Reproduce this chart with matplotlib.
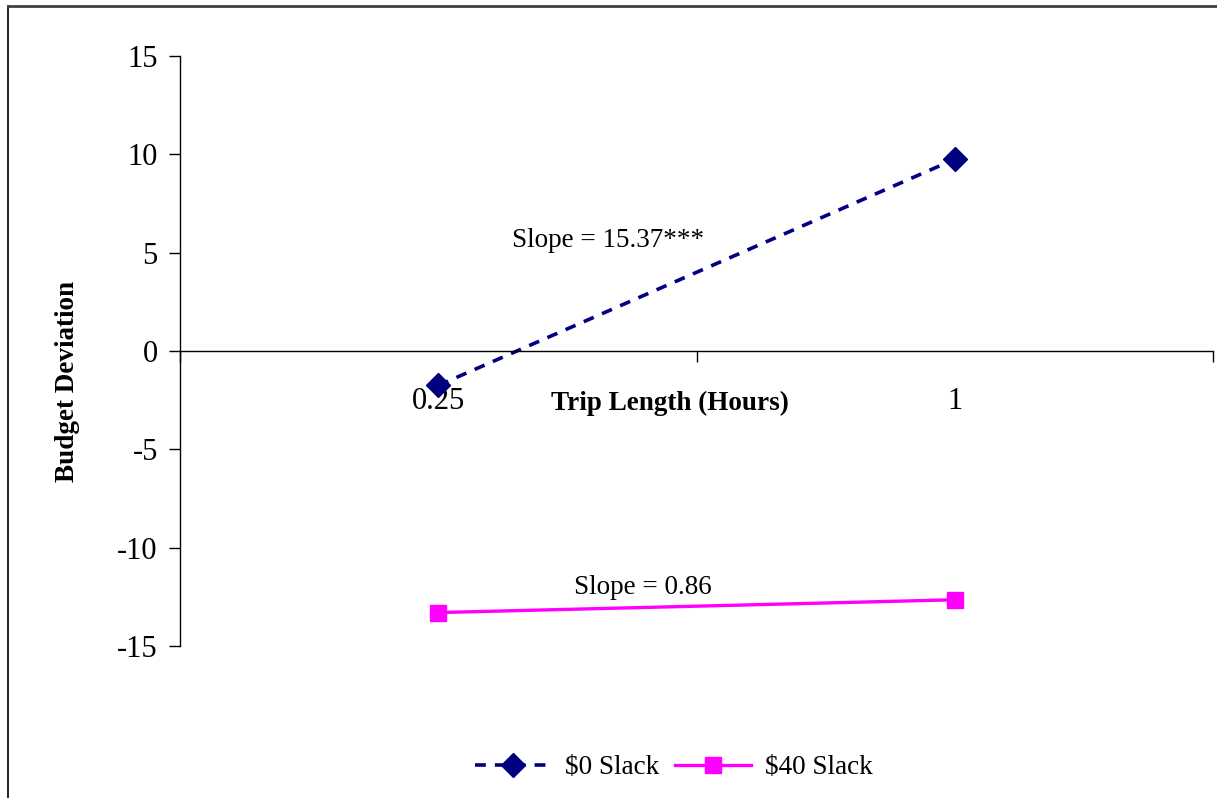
import matplotlib
matplotlib.use("Agg")
import matplotlib.pyplot as plt
from matplotlib.lines import Line2D

categories = ["0.25", "1"]
slack0 = [-1.75, 9.75]
slack40 = [-13.3, -12.65]
series_names = ["$0 Slack", "$40 Slack"]
slope_texts = ["Slope = 15.37***", "Slope = 0.86"]
y_ticks = [-15, -10, -5, 0, 5, 10, 15]

plt.rcParams['font.family'] = ['Liberation Serif', 'DejaVu Serif']

W, H = 1217, 798
fig = plt.figure(figsize=(W / 100, H / 100), dpi=100)
ax = fig.add_axes([180 / W, 1 - 646 / H, (1213 - 180) / W, (646 - 56) / H])

x = list(range(len(categories)))
ax.plot(x, slack0, color='#000080', lw=2.6, dashes=(3, 2.5), marker='D',
        markersize=12, label=series_names[0])
ax.plot(x, slack40, color='#FF00FF', lw=2.4, marker='s',
        markersize=11.5, label=series_names[1])

ax.set_xlim(-0.5, 1.5)
ax.set_ylim(-15, 15)
ax.set_yticks(y_ticks)
ax.set_yticklabels([str(t) for t in y_ticks])
ax.tick_params(axis='y', direction='out', length=8, width=1, pad=8, labelsize=22)

ax.set_xticks([-0.5, 0.5, 1.5])
ax.set_xticklabels(['', '', ''])
ax.set_xticks(x, minor=True)
ax.set_xticklabels(categories, minor=True)
ax.tick_params(axis='x', which='major', direction='out', length=8, width=1)
ax.tick_params(axis='x', which='minor', length=0, pad=26, labelsize=22)

for s in ['top', 'right']:
    ax.spines[s].set_visible(False)
ax.spines['bottom'].set_position(('data', 0))
ax.spines['left'].set_linewidth(1)
ax.spines['bottom'].set_linewidth(1)

ax.text(0.142, 5.6, slope_texts[0], fontsize=19.5, ha='left', va='center')
ax.text(0.262, -12.0, slope_texts[1], fontsize=19.5, ha='left', va='center')

fig.text(670 / W, 1 - 403 / H, "Trip Length (Hours)", fontsize=19.5,
         fontweight='bold', ha='center', va='center')
fig.text(67 / W, 1 - 382 / H, "Budget Deviation", fontsize=19.5,
         fontweight='bold', ha='center', va='center', rotation=90)

leg = fig.legend(loc='center', bbox_to_anchor=(674 / W, 1 - 768 / H),
                 ncol=2, frameon=False, fontsize=19.5, handlelength=2.8,
                 columnspacing=0.6, handletextpad=0.5)

fig.add_artist(Line2D([8 / W, 8 / W], [0, 1 - 6 / H], transform=fig.transFigure,
                      color='black', lw=1.2))
fig.add_artist(Line2D([8 / W, 1], [1 - 6 / H, 1 - 6 / H], transform=fig.transFigure,
                      color='#404040', lw=2))

fig.savefig("out.png", dpi=100)
